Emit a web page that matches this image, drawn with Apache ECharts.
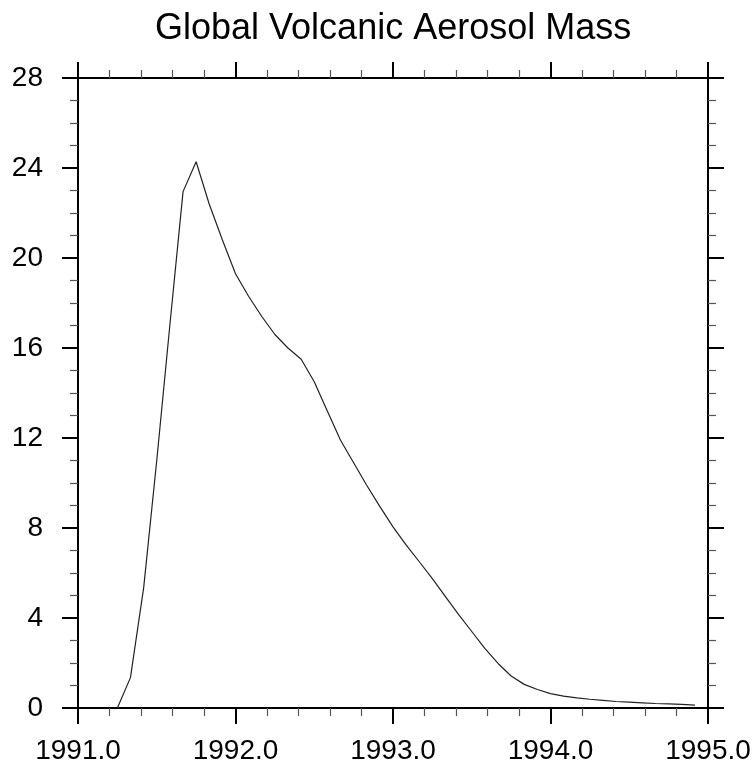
<!DOCTYPE html>
<html>
<head>
<meta charset="utf-8">
<script src="https://cdn.jsdelivr.net/npm/echarts@6/dist/echarts.min.js"></script>
<style>
html,body{margin:0;padding:0;background:#fff;}
#chart{width:755px;height:773px;}
</style>
</head>
<body>
<div id="chart"></div>
<script>
var titleText = "Global Volcanic Aerosol Mass";
var years = [1991.250,1991.333,1991.417,1991.500,1991.583,1991.667,1991.750,1991.833,1991.917,
             1992.000,1992.083,1992.167,1992.250,1992.333,1992.417,1992.500,1992.583,1992.667,1992.750,1992.833,1992.917,
             1993.000,1993.083,1993.167,1993.250,1993.333,1993.417,1993.500,1993.583,1993.667,1993.750,1993.833,1993.917,
             1994.000,1994.083,1994.167,1994.250,1994.333,1994.417,1994.500,1994.583,1994.667,1994.750,1994.833,1994.917];
var mass = [0,1.35,5.35,11.0,17.0,22.95,24.28,22.4,20.8,
            19.3,18.3,17.4,16.6,16.0,15.5,14.5,13.2,11.9,10.9,9.9,8.95,
            8.05,7.25,6.5,5.75,4.95,4.15,3.4,2.65,1.98,1.42,1.05,0.82,
            0.64,0.53,0.45,0.39,0.34,0.29,0.26,0.23,0.2,0.18,0.16,0.13];
var xMin = 1991, xMax = 1995, xStep = 1;
var yMin = 0, yMax = 28, yStep = 4;

var FONT = "'Liberation Sans', Arial, Helvetica, sans-serif";
var data = years.map(function(y,i){ return [y, mass[i]]; });

function xAx(pos, showLabel){
  return {
    type:'value', position:pos, min:xMin, max:xMax, interval:xStep,
    axisLine:{show:true, onZero:false, lineStyle:{color:'#000', width:2}},
    axisTick:{show:true, inside:false, length:16, lineStyle:{color:'#000', width:2}},
    minorTick:{show:true, splitNumber:5, length:8, lineStyle:{color:'#555', width:1.2}},
    splitLine:{show:false}, minorSplitLine:{show:false},
    axisLabel:{show:showLabel, margin:29, color:'#000', fontSize:28, fontFamily:FONT,
      formatter:function(v){ return v.toFixed(1); }}
  };
}
function yAx(pos, showLabel){
  return {
    type:'value', position:pos, min:yMin, max:yMax, interval:yStep,
    axisLine:{show:true, onZero:false, lineStyle:{color:'#000', width:2}},
    axisTick:{show:true, inside:false, length:16, lineStyle:{color:'#000', width:2}},
    minorTick:{show:true, splitNumber:4, length:8, lineStyle:{color:'#555', width:1.2}},
    splitLine:{show:false}, minorSplitLine:{show:false},
    axisLabel:{show:showLabel, margin:35, color:'#000', fontSize:28, fontFamily:FONT}
  };
}

var chart = echarts.init(document.getElementById('chart'), null, {renderer:'canvas'});
chart.setOption({
  backgroundColor:'#fff',
  animation:false,
  title:{text:titleText, left:150, top:6,
    textStyle:{fontSize:36, fontWeight:'normal', color:'#000', fontFamily:FONT}},
  grid:{left:78, top:78, width:630, height:630, containLabel:false},
  xAxis:[xAx('bottom', true), xAx('top', false)],
  yAxis:[yAx('left', true), yAx('right', false)],
  series:[{
    type:'line', xAxisIndex:0, yAxisIndex:0, data:data,
    showSymbol:false, symbol:'none',
    lineStyle:{color:'#222', width:1.2}
  }]
});
</script>
</body>
</html>
